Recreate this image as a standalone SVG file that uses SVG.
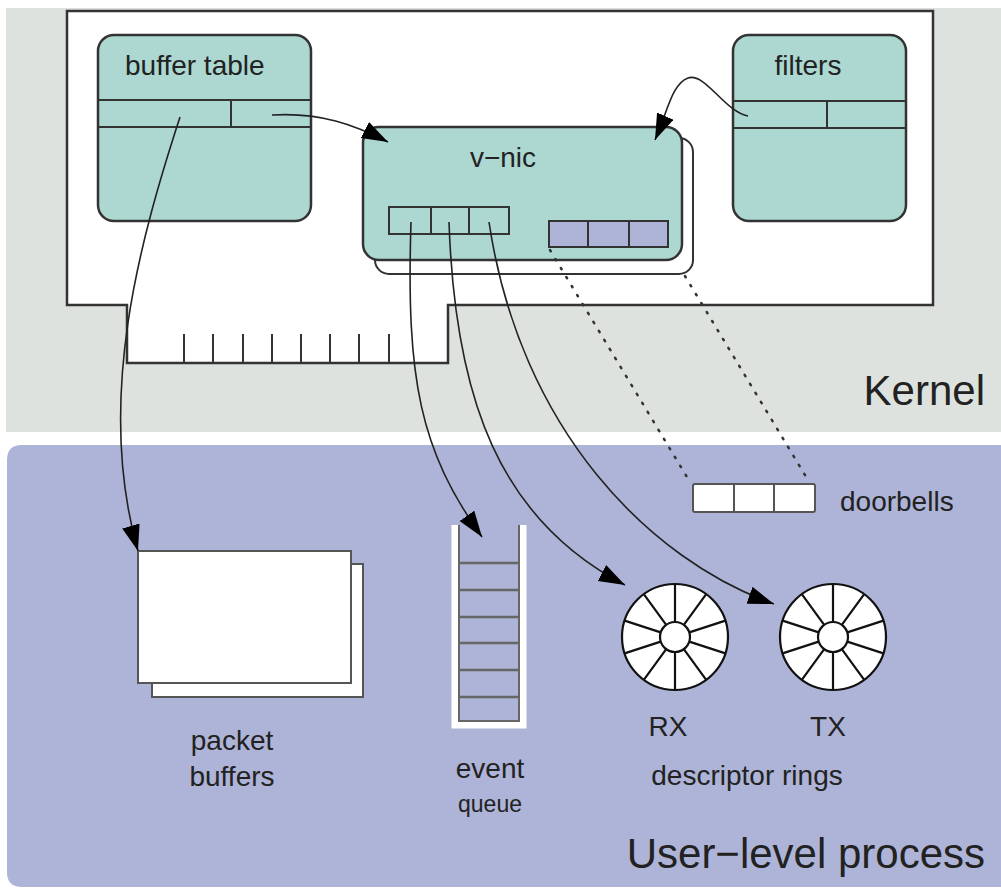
<svg xmlns="http://www.w3.org/2000/svg" width="1001" height="889" viewBox="0 0 1001 889">
<style>
  text { font-family: "Liberation Sans", Arial, sans-serif; fill: #222; }
  .lbl { font-size: 28px; }
  .big { font-size: 42px; }
  .teal { fill: #acd8d1; stroke: #333; stroke-width: 2.5; }
  .ln { fill: none; stroke: #333; stroke-width: 2; }
  .wire { fill: none; stroke: #222; stroke-width: 1.6; }
  .dot { fill: none; stroke: #333; stroke-width: 2.5; stroke-dasharray: 1.5 9; stroke-linecap: round; }
  .wbox { fill: #fff; stroke: #555; stroke-width: 2; }
  .ring { fill: #fff; stroke: #111; stroke-width: 2.2; }
</style>
<defs>
  <marker id="ah" markerUnits="userSpaceOnUse" markerWidth="28" markerHeight="20" refX="26" refY="9" orient="auto">
    <path d="M0,0 L26,9 L0,18 Z" fill="#000"/>
  </marker>
</defs>

<!-- backgrounds -->
<g id="kernel-region">
  <rect x="6" y="8" width="995" height="424" fill="#dee2df"/>
  <text class="big" x="985" y="405" text-anchor="end">Kernel</text>
</g>
<g id="user-region">
  <path d="M22,445 H1001 V887 H22 Q7,887 7,872 V460 Q7,445 22,445 Z" fill="#aeb4d7"/>
  <text class="big" x="985" y="868" text-anchor="end">User−level process</text>
</g>

<!-- NIC card -->
<g id="card">
  <path d="M67,11 H933 V305 H448 V363 H127 V305 H67 Z" fill="#fff" stroke="#333" stroke-width="2.5"/>
  <g class="ln">
    <path d="M184,334 V363 M213,334 V363 M243,334 V363 M272,334 V363 M301,334 V363 M330,334 V363 M359,334 V363 M389,334 V363"/>
  </g>
</g>

<g id="buffer-table">
  <rect class="teal" x="98" y="35" width="213" height="186" rx="16"/>
  <path class="ln" d="M98,100 H311 M98,127 H311 M231,100 V127"/>
  <text class="lbl" x="125" y="75">buffer table</text>
</g>

<g id="filters">
  <rect class="teal" x="733" y="35" width="173" height="186" rx="16"/>
  <path class="ln" d="M733,101 H906 M733,128 H906 M827,101 V128"/>
  <text class="lbl" x="808" y="75" text-anchor="middle">filters</text>
</g>

<g id="v-nic">
  <rect x="375" y="138" width="318" height="136" rx="14" fill="#fff" stroke="#333" stroke-width="2"/>
  <rect class="teal" x="363" y="127" width="319" height="133" rx="16"/>
  <text class="lbl" x="503" y="167" text-anchor="middle">v−nic</text>
  <rect x="389" y="207" width="120" height="27" fill="none" stroke="#333" stroke-width="2"/>
  <path class="ln" d="M431,207 V234 M469,207 V234"/>
  <rect x="549" y="221" width="119" height="26" fill="#aeb4d7" stroke="#333" stroke-width="2"/>
  <path class="ln" d="M588,221 V247 M629,221 V247"/>
</g>

<g id="doorbells">
  <rect class="wbox" x="693" y="484" width="122" height="28" rx="2"/>
  <path d="M734,484 V512 M774,484 V512" stroke="#555" stroke-width="2"/>
  <text class="lbl" x="840" y="511">doorbells</text>
</g>

<g id="packet-buffers">
  <rect class="wbox" x="152" y="564" width="211" height="133"/>
  <rect class="wbox" x="138" y="551" width="213" height="132"/>
  <text class="lbl" x="232" y="750" text-anchor="middle">packet</text>
  <text class="lbl" x="232" y="786" text-anchor="middle">buffers</text>
</g>

<g id="event-queue">
  <path d="M455,525 V725 H523 V525" fill="none" stroke="#fff" stroke-width="7"/>
  <path d="M459,525 V721 H519 V525" fill="none" stroke="#666" stroke-width="2"/>
  <path d="M459,563 H519 M459,590 H519 M459,617 H519 M459,643 H519 M459,670 H519 M459,697 H519" stroke="#666" stroke-width="2.5"/>
  <text class="lbl" x="490" y="778" text-anchor="middle">event</text>
  <text x="490" y="812" text-anchor="middle" font-size="23">queue</text>
</g>

<g id="rx-ring">
  <circle class="ring" cx="675" cy="637" r="53"/>
  <g stroke="#111" stroke-width="2.2">
    <path d="M675,622 V584 M675,652 V690"/>
    <path d="M683.8,624.9 L706.2,594.1 M666.2,649.1 L643.8,679.9"/>
    <path d="M689.3,632.4 L725.4,620.6 M660.7,641.6 L624.6,653.4"/>
    <path d="M689.3,641.6 L725.4,653.4 M660.7,632.4 L624.6,620.6"/>
    <path d="M683.8,649.1 L706.2,679.9 M666.2,624.9 L643.8,594.1"/>
  </g>
  <circle cx="675" cy="637" r="15" fill="#fff" stroke="#111" stroke-width="2.2"/>
  <text class="lbl" x="668" y="736" text-anchor="middle">RX</text>
</g>

<g id="tx-ring">
  <circle class="ring" cx="833" cy="637" r="53"/>
  <g stroke="#111" stroke-width="2.2">
    <path d="M833,622 V584 M833,652 V690"/>
    <path d="M841.8,624.9 L864.2,594.1 M824.2,649.1 L801.8,679.9"/>
    <path d="M847.3,632.4 L883.4,620.6 M818.7,641.6 L782.6,653.4"/>
    <path d="M847.3,641.6 L883.4,653.4 M818.7,632.4 L782.6,620.6"/>
    <path d="M841.8,649.1 L864.2,679.9 M824.2,624.9 L801.8,594.1"/>
  </g>
  <circle cx="833" cy="637" r="15" fill="#fff" stroke="#111" stroke-width="2.2"/>
  <text class="lbl" x="828" y="736" text-anchor="middle">TX</text>
  <text class="lbl" x="747" y="785" text-anchor="middle">descriptor rings</text>
</g>

<!-- connectors -->
<g id="connectors">
  <path class="wire" d="M272,115 C320,112 355,125 388,142" marker-end="url(#ah)"/>
  <path class="wire" d="M748,116 C725,112 705,72 688,78 C672,84 668,110 655,140" marker-end="url(#ah)"/>
  <path class="wire" d="M180,117 C140,240 95,400 138,551" marker-end="url(#ah)"/>
  <path class="wire" d="M411,222 C406,380 420,450 482,537" marker-end="url(#ah)"/>
  <path class="wire" d="M449,222 C455,400 500,520 625,585" marker-end="url(#ah)"/>
  <path class="wire" d="M489,222 C520,430 650,560 774,604" marker-end="url(#ah)"/>
  <path class="dot" d="M550,250 L690,482"/>
  <path class="dot" d="M685,276 L808,480"/>
</g>
</svg>
